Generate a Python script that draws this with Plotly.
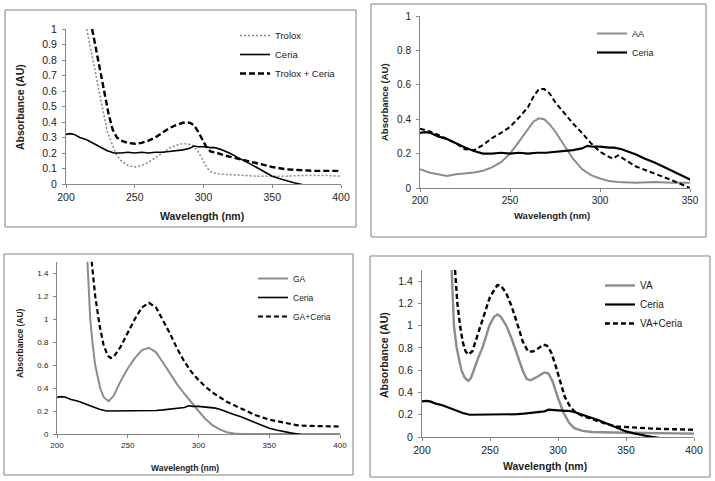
import plotly.graph_objects as go

W, H = 715, 481

# ---------------- data ----------------
ceria_x = [200, 203, 206, 210, 215, 220, 225, 230, 235, 240, 245, 250, 255, 260, 265, 270, 275, 280, 285, 290,
           293, 296, 300, 305, 308, 312, 316, 320, 325, 330, 335, 340, 345, 350, 355, 360, 365, 370, 375]
ceria_y = [0.32, 0.325, 0.32, 0.30, 0.285, 0.26, 0.235, 0.215, 0.20, 0.20, 0.205, 0.20, 0.205, 0.20, 0.205, 0.205,
           0.21, 0.215, 0.22, 0.23, 0.245, 0.24, 0.24, 0.235, 0.235, 0.225, 0.21, 0.195, 0.17, 0.15, 0.125, 0.10,
           0.075, 0.05, 0.035, 0.02, 0.01, 0.0, -0.01]

trolox_x = [215, 218, 221, 224, 227, 230, 233, 236, 240, 245, 250, 255, 260, 265, 270, 275, 280, 285, 288, 292,
            296, 300, 303, 306, 310, 320, 330, 340, 350, 360, 370, 380, 390, 400]
trolox_y = [1.0, 0.88, 0.74, 0.6, 0.46, 0.34, 0.27, 0.2, 0.15, 0.12, 0.11, 0.12, 0.14, 0.17, 0.2, 0.23, 0.25, 0.26,
            0.26, 0.25, 0.21, 0.15, 0.1, 0.075, 0.065, 0.06, 0.055, 0.05, 0.05, 0.05, 0.055, 0.055, 0.055, 0.05]

trolox_ceria_x = [219, 222, 225, 228, 231, 234, 237, 240, 245, 250, 255, 260, 265, 270, 275, 280, 285, 290, 293,
                  296, 299, 302, 305, 310, 315, 320, 325, 330, 340, 350, 360, 370, 380, 390, 400]
trolox_ceria_y = [1.0, 0.86, 0.72, 0.58, 0.45, 0.35, 0.3, 0.28, 0.265, 0.26, 0.265, 0.28, 0.3, 0.33, 0.36, 0.38,
                  0.395, 0.395, 0.38, 0.34, 0.29, 0.24, 0.21, 0.2, 0.185, 0.175, 0.16, 0.15, 0.13, 0.11, 0.095,
                  0.09, 0.085, 0.085, 0.085]

aa_x = [200, 205, 210, 215, 220, 225, 230, 235, 240, 245, 250, 255, 260, 263, 266, 269, 272, 275, 280, 285, 290,
        295, 300, 305, 310, 320, 330, 340, 350]
aa_y = [0.11, 0.09, 0.08, 0.07, 0.08, 0.085, 0.09, 0.1, 0.12, 0.15, 0.2, 0.27, 0.34, 0.385, 0.405, 0.4, 0.37,
        0.33, 0.25, 0.17, 0.11, 0.075, 0.055, 0.04, 0.035, 0.03, 0.035, 0.03, 0.03]

aa_ceria_x = [200, 205, 210, 215, 220, 225, 230, 235, 240, 245, 250, 255, 260, 263, 266, 269, 272, 275, 280, 285,
              290, 295, 300, 305, 307, 310, 320, 330, 340, 350]
aa_ceria_y = [0.345, 0.33, 0.31, 0.285, 0.26, 0.225, 0.22, 0.25, 0.29, 0.32, 0.355, 0.41, 0.47, 0.53, 0.575,
              0.575, 0.55, 0.5, 0.435, 0.375, 0.32, 0.26, 0.21, 0.18, 0.17, 0.19, 0.125, 0.085, 0.045, 0.0]

ga_x = [221.5, 223.5, 225, 227, 230.5, 233, 236.5, 240, 245, 250, 255, 260, 265, 270, 275, 280, 285, 290, 295,
        300, 305, 310, 315, 320, 325, 330, 400]
ga_y = [1.5, 1.0, 0.8, 0.6, 0.4, 0.32, 0.285, 0.33, 0.46, 0.57, 0.66, 0.73, 0.75, 0.71, 0.62, 0.52, 0.43, 0.35,
        0.27, 0.2, 0.13, 0.075, 0.04, 0.015, 0.005, 0.0, 0.0]

ga_ceria_x = [224.5, 227, 230, 233, 236, 238, 240, 245, 250, 255, 260, 265, 270, 275, 280, 285, 290, 295, 300,
              305, 310, 320, 330, 340, 350, 360, 365, 370, 380, 390, 400]
ga_ceria_y = [1.5, 1.2, 0.95, 0.77, 0.68, 0.66, 0.67, 0.76, 0.88, 1.0, 1.1, 1.14, 1.1, 0.99, 0.87, 0.74, 0.63,
              0.54, 0.47, 0.41, 0.36, 0.28, 0.22, 0.165, 0.125, 0.1, 0.09, 0.075, 0.07, 0.065, 0.065]

va_x = [221.8, 223.5, 225.5, 229, 231.5, 234, 236, 238, 241, 245, 249.5, 253, 255.5, 258, 262, 266, 270, 274, 277,
        280, 286, 290, 293, 296, 300, 304, 308, 312, 318, 325, 340, 360, 380, 400]
va_y = [1.5, 1.0, 0.8, 0.6, 0.53, 0.505, 0.53, 0.6, 0.7, 0.82, 1.0, 1.08, 1.1, 1.08, 1.0, 0.88, 0.74, 0.6, 0.52,
        0.51, 0.55, 0.58, 0.57, 0.5, 0.35, 0.22, 0.13, 0.08, 0.055, 0.045, 0.04, 0.035, 0.03, 0.03]

va_ceria_x = [224.3, 226, 228, 230, 232, 234, 237, 240, 245, 250, 255.5, 258, 262, 266, 270, 274, 278, 282, 286,
              289, 292, 295, 298, 301.5, 305, 309, 313, 318, 325, 335, 343, 355, 370, 385, 400]
va_ceria_y = [1.5, 1.2, 1.0, 0.85, 0.77, 0.74, 0.77, 0.88, 1.08, 1.26, 1.365, 1.36, 1.29, 1.17, 1.02, 0.86, 0.766,
              0.77, 0.8, 0.83, 0.82, 0.76, 0.65, 0.5, 0.36, 0.27, 0.22, 0.19, 0.16, 0.12, 0.095, 0.085, 0.075,
              0.07, 0.065]

x_ticks_400 = [200, 250, 300, 350, 400]
x_ticks_350 = [200, 250, 300, 350]
y_ticks_p1 = [0, 0.1, 0.2, 0.3, 0.4, 0.5, 0.6, 0.7, 0.8, 0.9, 1]
y_ticks_p2 = [0, 0.2, 0.4, 0.6, 0.8, 1]
y_ticks_p34 = [0, 0.2, 0.4, 0.6, 0.8, 1, 1.2, 1.4]

# ---------------- layout helpers ----------------
def fx(px):
    return px / W

def fy(py):
    return 1 - py / H

FONT = "Liberation Sans, Arial, sans-serif"
AXC = "#868686"

fig = go.Figure()

def add(x, y, xa, ya, name, color, width, dash, legend, show=True):
    fig.add_trace(go.Scatter(x=x, y=y, xaxis=xa, yaxis=ya, name=name, mode="lines",
                             line=dict(color=color, width=width, dash=dash),
                             legend=legend, showlegend=show, hoverinfo="skip"))

# Panel 1
add(trolox_x, trolox_y, "x", "y", "Trolox", "#8c8c8c", 1.6, "2px,2px", "legend")
add(ceria_x, ceria_y, "x", "y", "Ceria", "black", 1.6, "solid", "legend")
add(trolox_ceria_x, trolox_ceria_y, "x", "y", "Trolox + Ceria", "black", 2.4, "6px,3px", "legend")
# Panel 2
add(aa_x, aa_y, "x2", "y2", "AA", "#8c8c8c", 2, "solid", "legend2")
add(ceria_x, ceria_y, "x2", "y2", "Ceria", "black", 2.2, "solid", "legend2")
add(aa_ceria_x, aa_ceria_y, "x2", "y2", "AA+Ceria", "black", 2, "5px,3px", "legend2", show=False)
# Panel 3
add(ga_x, ga_y, "x3", "y3", "GA", "#8c8c8c", 2, "solid", "legend3")
add(ceria_x, ceria_y, "x3", "y3", "Ceria", "black", 1.6, "solid", "legend3")
add(ga_ceria_x, ga_ceria_y, "x3", "y3", "GA+Ceria", "black", 2.2, "5px,3px", "legend3")
# Panel 4
add(va_x, va_y, "x4", "y4", "VA", "#8c8c8c", 2.4, "solid", "legend4")
add(ceria_x, ceria_y, "x4", "y4", "Ceria", "black", 2.2, "solid", "legend4")
add(va_ceria_x, va_ceria_y, "x4", "y4", "VA+Ceria", "black", 2.4, "5px,3px", "legend4")

def xaxis(x0, x1, rng, ticks, size):
    return dict(domain=[fx(x0), fx(x1)], range=rng, tickvals=ticks, showgrid=False, zeroline=False,
                showline=True, linecolor=AXC, linewidth=1, ticks="outside", ticklen=3, tickcolor=AXC,
                automargin=False,
                tickfont=dict(family=FONT, size=size, color="#222"), fixedrange=True)

def yaxis(y_bottom, y_top, rng, ticks, size, anchor):
    return dict(domain=[fy(y_bottom), fy(y_top)], range=rng, tickvals=ticks, showgrid=False, zeroline=False,
                showline=True, linecolor=AXC, linewidth=1, ticks="outside", ticklen=3, tickcolor=AXC,
                ticklabelstandoff=3, automargin=False,
                tickfont=dict(family=FONT, size=size, color="#222"), anchor=anchor, fixedrange=True)

layout = dict(
    template="none",
    width=W, height=H, margin=dict(l=0, r=0, t=0, b=0, pad=0, autoexpand=False),
    paper_bgcolor="white", plot_bgcolor="white",
    xaxis=dict(xaxis(66, 341, [200, 400], x_ticks_400, 10.5), anchor="y"),
    yaxis=yaxis(184, 29, [0, 1], y_ticks_p1, 10.5, "x"),
    xaxis2=dict(xaxis(420, 690, [200, 350], x_ticks_350, 10), anchor="y2"),
    yaxis2=yaxis(188, 16, [0, 1], y_ticks_p2, 10, "x2"),
    xaxis3=dict(xaxis(57, 340, [200, 400], x_ticks_400, 8), anchor="y3"),
    yaxis3=yaxis(434, 261.5, [0, 1.5], y_ticks_p34, 8, "x3"),
    xaxis4=dict(xaxis(422, 694, [200, 400], x_ticks_400, 10.5), anchor="y4"),
    yaxis4=yaxis(437, 270, [0, 1.5], y_ticks_p34, 10.5, "x4"),
)

def legend(x, y, size):
    return dict(x=fx(x), y=fy(y), xanchor="left", yanchor="top", bgcolor="rgba(0,0,0,0)", borderwidth=0,
                font=dict(family=FONT, size=size, color="#222"), itemwidth=30, tracegroupgap=0)

layout["legend"] = legend(235, 21, 9.5)
layout["legend2"] = legend(592, 19, 9)
layout["legend3"] = legend(253, 264, 8.5)
layout["legend4"] = legend(600, 271, 10)

# panel frames
shapes = []
for (x0, y0, x1, y1) in [(5, 10, 356, 227), (371, 4, 706, 237), (4, 254, 353, 475), (370, 256, 710, 477)]:
    shapes.append(dict(type="rect", xref="paper", yref="paper", x0=fx(x0), x1=fx(x1), y0=fy(y1), y1=fy(y0),
                       line=dict(color="#808080", width=1), fillcolor="rgba(0,0,0,0)", layer="below"))
layout["shapes"] = shapes

# axis titles
ann = []
def title(text, x, y, size, angle=0):
    ann.append(dict(text="<b>%s</b>" % text, x=fx(x), y=fy(y), xref="paper", yref="paper", showarrow=False,
                    xanchor="center", yanchor="middle", textangle=angle,
                    font=dict(family=FONT, size=size, color="#222")))

title("Wavelength (nm)", 202, 216, 10.5)
title("Absorbance (AU)", 20, 107, 10.5, -90)
title("Wavelength (nm)", 552, 215, 9.5)
title("Absorbance (AU)", 384, 102, 9.5, -90)
title("Wavelength (nm)", 185, 468, 8.5)
title("Absorbance (AU)", 20, 343, 8.5, -90)
title("Wavelength (nm)", 545, 466, 10.5)
title("Absorbance (AU)", 384, 355, 10.5, -90)
layout["annotations"] = ann

fig.update_layout(**layout)
fig.write_html("out.html", config={"displayModeBar": False, "staticPlot": True},
               post_script="document.body.style.margin='0';document.body.style.overflow='hidden';")
